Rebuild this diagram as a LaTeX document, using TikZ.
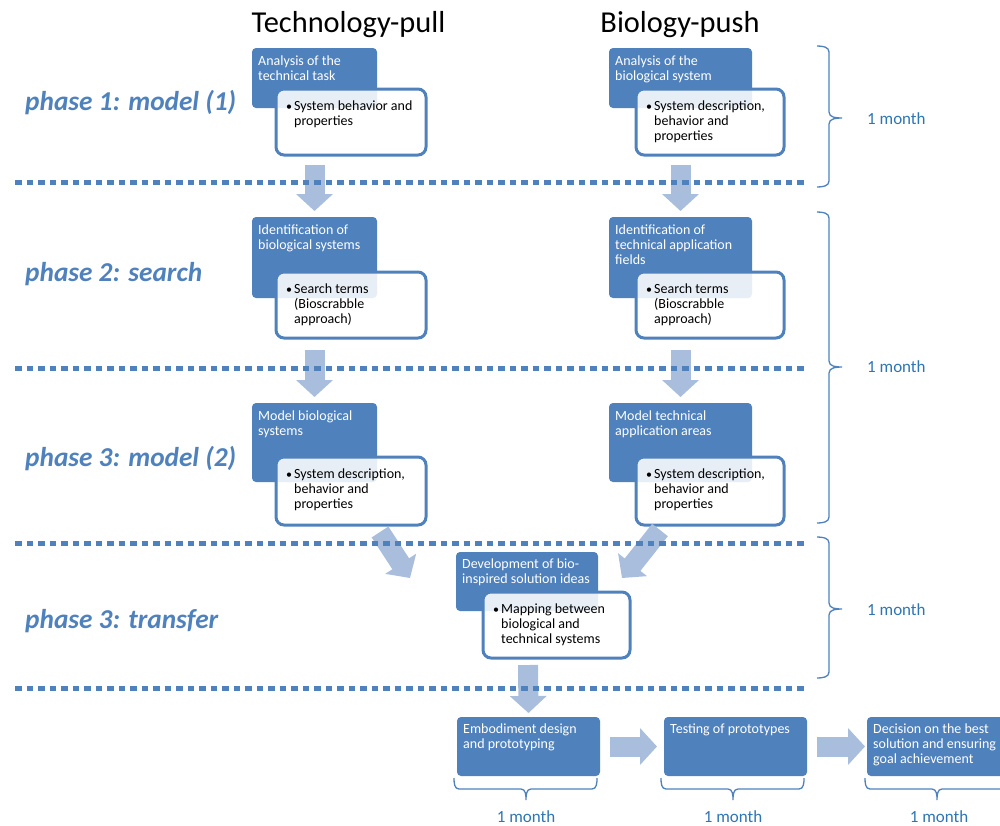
\documentclass[tikz,border=0pt]{standalone}
\usepackage{fontspec}
\setmainfont{Carlito}
\usetikzlibrary{arrows.meta,calc}
\definecolor{boxblue}{HTML}{4F81BD}
\definecolor{arrowblue}{HTML}{A9BDDD}
\definecolor{monthblue}{HTML}{2E75B6}
\tikzset{
  darkbox/.style={fill=boxblue, draw=none, rounded corners=4pt, anchor=north west, inner sep=0pt, outer sep=0pt},
  whitebox/.style={fill=white, fill opacity=0.87, draw=boxblue, line width=3pt, rounded corners=8pt, anchor=north west, inner sep=0pt, outer sep=0pt},
  darktext/.style={text=white, font=\fontsize{14}{15}\selectfont, align=left, anchor=north west, inner sep=0pt},
  whitetext/.style={text=black, font=\fontsize{14}{15}\selectfont, align=left, anchor=north west, inner sep=0pt},
  blockarrow/.style={draw=arrowblue, line width=20pt, -{Triangle[width=36pt,length=17pt]}},
  phaselabel/.style={text=boxblue, font=\fontsize{27.3}{30}\selectfont\bfseries\itshape, anchor=base west, inner sep=0pt},
  titlelabel/.style={text=black, font=\fontsize{30.4}{36}\selectfont, anchor=base, inner sep=0pt},
  monthlabel/.style={text=monthblue, font=\fontsize{17}{20}\selectfont, inner sep=0pt},
  phaseline/.style={draw=boxblue, line width=5pt, dash pattern=on 6.5pt off 5pt},
  bracestyle/.style={draw=boxblue, line width=1.3pt}
}
\newcommand{\bul}{\llap{\fontsize{12}{15}\selectfont•\hspace{2pt}}}
\begin{document}
\begin{tikzpicture}[x=1pt,y=-1pt]
\useasboundingbox (0,0) rectangle (1000,825);

% titles
\node[titlelabel] (t1) at (348.5,32) {Technology-pull};
\node[titlelabel] (t2) at (680,32) {Biology-push};

% phase labels
\node[phaselabel] (p1) at (25,110) {phase 1: model (1)};
\node[phaselabel] (p2) at (25,281) {phase 2: search};
\node[phaselabel] (p3) at (25,466) {phase 3: model (2)};
\node[phaselabel] (p4) at (25,628) {phase 3: transfer};

% left column
\node[darkbox, minimum width=125pt, minimum height=60pt] (L1d) at (252,48) {};
\node[darktext] at ($(L1d.north west)+(6,6.5)$) {\strut Analysis of the\\technical task};
\node[whitebox, minimum width=150pt, minimum height=66pt] (L1w) at (276,89) {};
\node[whitetext] at ($(L1w.north west)+(18,10.5)$) {\strut\bul System behavior and\\properties};

\node[darkbox, minimum width=125pt, minimum height=81pt] (L2d) at (252,217) {};
\node[darktext] at ($(L2d.north west)+(6,6.5)$) {\strut Identification of\\biological systems};
\node[whitebox, minimum width=150pt, minimum height=66pt] (L2w) at (276,272) {};
\node[whitetext] at ($(L2w.north west)+(18,10.5)$) {\strut\bul Search terms\\(Bioscrabble\\approach)};

\node[darkbox, minimum width=125pt, minimum height=79pt] (L3d) at (252,403) {};
\node[darktext] at ($(L3d.north west)+(6,6.5)$) {\strut Model biological\\systems};
\node[whitebox, minimum width=150pt, minimum height=68pt] (L3w) at (276,457) {};
\node[whitetext] at ($(L3w.north west)+(18,10.5)$) {\strut\bul System description,\\behavior and\\properties};

% right column
\node[darkbox, minimum width=143pt, minimum height=60pt] (R1d) at (609,48) {};
\node[darktext] at ($(R1d.north west)+(6,6.5)$) {\strut Analysis of the\\biological system};
\node[whitebox, minimum width=148pt, minimum height=66pt] (R1w) at (636,89) {};
\node[whitetext] at ($(R1w.north west)+(18,10.5)$) {\strut\bul System description,\\behavior and\\properties};

\node[darkbox, minimum width=143pt, minimum height=81pt] (R2d) at (609,217) {};
\node[darktext] at ($(R2d.north west)+(6,6.5)$) {\strut Identification of\\technical application\\fields};
\node[whitebox, minimum width=148pt, minimum height=66pt] (R2w) at (636,272) {};
\node[whitetext] at ($(R2w.north west)+(18,10.5)$) {\strut\bul Search terms\\(Bioscrabble\\approach)};

\node[darkbox, minimum width=143pt, minimum height=79pt] (R3d) at (609,403) {};
\node[darktext] at ($(R3d.north west)+(6,6.5)$) {\strut Model technical\\application areas};
\node[whitebox, minimum width=148pt, minimum height=68pt] (R3w) at (636,457) {};
\node[whitetext] at ($(R3w.north west)+(18,10.5)$) {\strut\bul System description,\\behavior and\\properties};

% transfer
\node[darkbox, minimum width=142pt, minimum height=59pt] (Td) at (456,552) {};
\node[darktext] at ($(Td.north west)+(6,5.5)$) {\strut Development of bio-\\inspired solution ideas};
\node[whitebox, minimum width=147pt, minimum height=66pt] (Tw) at (483,592) {};
\node[whitetext] at ($(Tw.north west)+(18,10.5)$) {\strut\bul Mapping between\\biological and\\technical systems};

% bottom row
\node[darkbox, minimum width=143pt, minimum height=59pt] (B1) at (457,717) {};
\node[darktext] at ($(B1.north west)+(6,5.5)$) {\strut Embodiment design\\and prototyping};
\node[darkbox, minimum width=143pt, minimum height=59pt] (B2) at (664,717) {};
\node[darktext] at ($(B2.north west)+(6,5.5)$) {\strut Testing of prototypes};
\node[darkbox, minimum width=143pt, minimum height=59pt] (B3) at (867,717) {};
\node[darktext] at ($(B3.north west)+(6,5.5)$) {\strut Decision on the best\\solution and ensuring\\goal achievement};

% block arrows
\draw[blockarrow] ($(L1d.south)+(0,57)$) -- ($(L2d.north)+(0,-6)$);
\draw[blockarrow] ($(R1d.south)+(0,57)$) -- ($(R2d.north)+(0,-6)$);
\draw[blockarrow] ($(L2d.south)+(0,52)$) -- ($(L3d.north)+(0,-6)$);
\draw[blockarrow] ($(R2d.south)+(0,52)$) -- ($(R3d.north)+(0,-6)$);
\draw[blockarrow] ($(L3w.south)+(29,7)$) -- ($(Td.west)+(-46,-3.5)$);
\draw[blockarrow] ($(R3w.south)+(-50,5)$) -- ($(Td.east)+(24,-3.5)$);
\draw[blockarrow] ($(Td.south)+(1,54)$) -- ($(B1.north)+(0,-4)$);
\draw[blockarrow] ($(B1.east)+(10,0)$) -- ($(B2.west)+(-7,0)$);
\draw[blockarrow] ($(B2.east)+(10,0)$) -- ($(B3.west)+(-2,0)$);

% phase separators
\coordinate (s1a) at (15,182); \coordinate (s1b) at (808,182);
\coordinate (s2a) at (15,368); \coordinate (s2b) at (808,368);
\coordinate (s3a) at (15,543); \coordinate (s3b) at (808,543);
\coordinate (s4a) at (15,688); \coordinate (s4b) at (808,688);
\draw[phaseline] (s1a) -- (s1b);
\draw[phaseline] (s2a) -- (s2b);
\draw[phaseline] (s3a) -- (s3b);
\draw[phaseline] (s4a) -- (s4b);

% right braces
\draw[bracestyle] (817,46) to[out=0,in=90] (829,52) -- (829,112) to[out=-90,in=180] (842,118) to[out=180,in=90] (829,124) -- (829,181) to[out=-90,in=0] (817,187);
\draw[bracestyle] (817,212) to[out=0,in=90] (829,218) -- (829,361) to[out=-90,in=180] (842,367) to[out=180,in=90] (829,373) -- (829,517) to[out=-90,in=0] (817,523);
\draw[bracestyle] (817,537) to[out=0,in=90] (829,543) -- (829,603) to[out=-90,in=180] (842,609) to[out=180,in=90] (829,615) -- (829,672) to[out=-90,in=0] (817,678);
\node[monthlabel, anchor=base west] (m1) at (867,124) {1 month};
\node[monthlabel, anchor=base west] (m2) at (867,372) {1 month};
\node[monthlabel, anchor=base west] (m3) at (867,615) {1 month};

% bottom braces
\draw[bracestyle] (454,778) to[out=-90,in=180] (459,789) -- (521,789) to[out=0,in=90] (526,800) to[out=90,in=180] (531,789) -- (592,789) to[out=0,in=-90] (597,778);
\draw[bracestyle] (661,778) to[out=-90,in=180] (666,789) -- (728,789) to[out=0,in=90] (733,800) to[out=90,in=180] (738,789) -- (799,789) to[out=0,in=-90] (804,778);
\draw[bracestyle] (865,778) to[out=-90,in=180] (870,789) -- (932,789) to[out=0,in=90] (937,800) to[out=90,in=180] (942,789) -- (1003,789) to[out=0,in=-90] (1008,778);
\node[monthlabel, anchor=base] (m4) at (526,822) {1 month};
\node[monthlabel, anchor=base] (m5) at (733,822) {1 month};
\node[monthlabel, anchor=base] (m6) at (939,822) {1 month};
\end{tikzpicture}
\end{document}
